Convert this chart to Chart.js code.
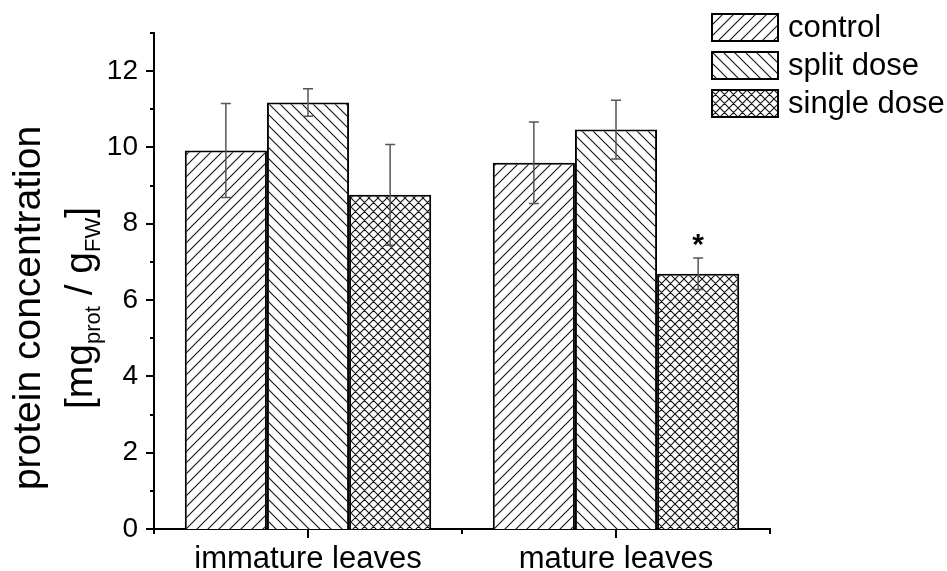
<!DOCTYPE html>
<html>
<head>
<meta charset="utf-8">
<script src="https://cdn.jsdelivr.net/npm/chart.js@4.4.1/dist/chart.umd.min.js"></script>
<style>
  body { margin: 0; background: #fff; }
  #wrap { width: 947px; height: 571px; }
</style>
</head>
<body>
<div id="wrap"><canvas id="chart" width="947" height="571"></canvas></div>
<script>
const categories = ['immature leaves', 'mature leaves'];
const seriesNames = ['control', 'split dose', 'single dose'];
const controlValues = [9.92, 9.60];
const controlErrors = [1.23, 1.07];
const splitValues = [11.18, 10.47];
const splitErrors = [0.36, 0.77];
const singleValues = [8.76, 6.69];
const singleErrors = [1.32, 0.41];
const yTicks = [0, 2, 4, 6, 8, 10, 12];
const significance = [['', ''], ['', ''], ['', '*']];

const FONT = '"Liberation Sans", Arial, sans-serif';
const canvas = document.getElementById('chart');
const ctx = canvas.getContext('2d');

// hatch fills
function hatch(size, kind) {
    const tile = document.createElement('canvas');
    tile.width = size;
    tile.height = size;
    const t = tile.getContext('2d');
    t.fillStyle = '#fff';
    t.fillRect(0, 0, size, size);
    t.strokeStyle = '#111';
    t.lineWidth = 1.1;
    t.beginPath();
    if (kind === 'fwd' || kind === 'cross') {
        t.moveTo(0, size); t.lineTo(size, 0);
        t.moveTo(-1, 1); t.lineTo(1, -1);
        t.moveTo(size - 1, size + 1); t.lineTo(size + 1, size - 1);
    }
    if (kind === 'back' || kind === 'cross') {
        t.moveTo(0, 0); t.lineTo(size, size);
        t.moveTo(-1, size - 1); t.lineTo(1, size + 1);
        t.moveTo(size - 1, -1); t.lineTo(size + 1, 1);
    }
    t.stroke();
    return ctx.createPattern(tile, 'repeat');
}

const fills = [hatch(11, 'fwd'), hatch(11, 'back'), hatch(9, 'cross')];
const errors = [controlErrors, splitErrors, singleErrors];

const extrasPlugin = {
    id: 'extras',
    afterDatasetsDraw(chart) {
        const c = chart.ctx;
        const y = chart.scales.y;
        c.save();
        // error bars
        chart.data.datasets.forEach((ds, i) => {
            const meta = chart.getDatasetMeta(i);
            meta.data.forEach((bar, j) => {
                const v = ds.data[j];
                const e = errors[i][j];
                const top = y.getPixelForValue(v + e);
                const bot = y.getPixelForValue(v - e);
                c.strokeStyle = '#555';
                c.lineWidth = 1.5;
                c.beginPath();
                c.moveTo(bar.x, top); c.lineTo(bar.x, bot);
                c.moveTo(bar.x - 5, top); c.lineTo(bar.x + 5, top);
                c.moveTo(bar.x - 5, bot); c.lineTo(bar.x + 5, bot);
                c.stroke();
                if (significance[i][j]) {
                    c.fillStyle = '#000';
                    c.font = 'bold 30px ' + FONT;
                    c.textAlign = 'center';
                    c.textBaseline = 'alphabetic';
                    c.fillText(significance[i][j], bar.x, top - 4);
                }
            });
        });
        c.restore();
    },
    afterDraw(chart) {
        const c = chart.ctx;
        const area = chart.chartArea;
        const x = chart.scales.x;
        const y = chart.scales.y;
        c.save();
        c.strokeStyle = '#000';
        c.lineWidth = 2;
        c.beginPath();
        // y ticks: major on even, minor on odd
        for (let v = 0; v <= y.max; v++) {
            const py = Math.round(y.getPixelForValue(v));
            const len = v % 2 === 0 ? 8 : 4;
            c.moveTo(area.left, py); c.lineTo(area.left - len, py);
        }
        // x ticks: major at categories, minor at boundaries
        const step = (area.right - area.left) / categories.length;
        for (let k = 0; k <= categories.length; k++) {
            const px = area.left + k * step;
            c.moveTo(px, area.bottom); c.lineTo(px, area.bottom + 5);
        }
        categories.forEach((cat, k) => {
            const px = x.getPixelForValue(k);
            c.moveTo(px, area.bottom); c.lineTo(px, area.bottom + 9);
        });
        c.stroke();

        // y axis title
        c.fillStyle = '#000';
        c.translate(0, 308);
        c.rotate(-Math.PI / 2);
        c.textBaseline = 'alphabetic';
        c.textAlign = 'center';
        c.font = '39px ' + FONT;
        c.fillText('protein concentration', 0, 40);
        const parts = [['[mg', 39, 0], ['prot', 22, 8], [' / g', 39, 0], ['FW', 22, 8], [']', 39, 0]];
        let w = 0;
        parts.forEach(p => { c.font = p[1] + 'px ' + FONT; w += c.measureText(p[0]).width; });
        let cx = -w / 2;
        c.textAlign = 'left';
        parts.forEach(p => {
            c.font = p[1] + 'px ' + FONT;
            c.fillText(p[0], cx, 92 + p[2]);
            cx += c.measureText(p[0]).width;
        });
        c.restore();

        // legend
        c.save();
        chart.data.datasets.forEach((ds, i) => {
            const top = 14 + i * 38;
            c.fillStyle = ds.backgroundColor;
            c.fillRect(712, top, 66, 27);
            c.strokeStyle = '#000';
            c.lineWidth = 2;
            c.strokeRect(712, top, 66, 27);
            c.fillStyle = '#000';
            c.font = '31px ' + FONT;
            c.textBaseline = 'middle';
            c.textAlign = 'left';
            c.fillText(ds.label, 788, top + 14);
        });
        c.restore();
    }
};

const chart = new Chart(ctx, {
    type: 'bar',
    data: {
        labels: categories,
        datasets: [
            { label: seriesNames[0], data: controlValues, backgroundColor: fills[0] },
            { label: seriesNames[1], data: splitValues, backgroundColor: fills[1] },
            { label: seriesNames[2], data: singleValues, backgroundColor: fills[2] }
        ].map(ds => Object.assign(ds, {
            borderColor: '#000',
            borderWidth: 2,
            categoryPercentage: 0.8,
            barPercentage: 1.0
        }))
    },
    options: {
        responsive: false,
        devicePixelRatio: 1,
        animation: false,
        layout: { padding: { top: 33, right: 177, left: 0, bottom: 0 } },
        plugins: {
            legend: { display: false },
            tooltip: { enabled: false }
        },
        scales: {
            x: {
                grid: { display: false, drawTicks: false },
                border: { display: true, color: '#000', width: 2 },
                ticks: {
                    color: '#000',
                    padding: 12,
                    font: { family: FONT, size: 31 }
                },
                afterFit: s => { s.height = 42; }
            },
            y: {
                min: 0,
                max: 13,
                grid: { display: false, drawTicks: false },
                border: { display: true, color: '#000', width: 2 },
                ticks: {
                    stepSize: 1,
                    color: '#000',
                    padding: 16,
                    font: { family: FONT, size: 28 },
                    callback: v => yTicks.includes(v) ? v : ''
                },
                afterFit: s => { s.width = 154; }
            }
        }
    },
    plugins: [extrasPlugin]
});
</script>
</body>
</html>
